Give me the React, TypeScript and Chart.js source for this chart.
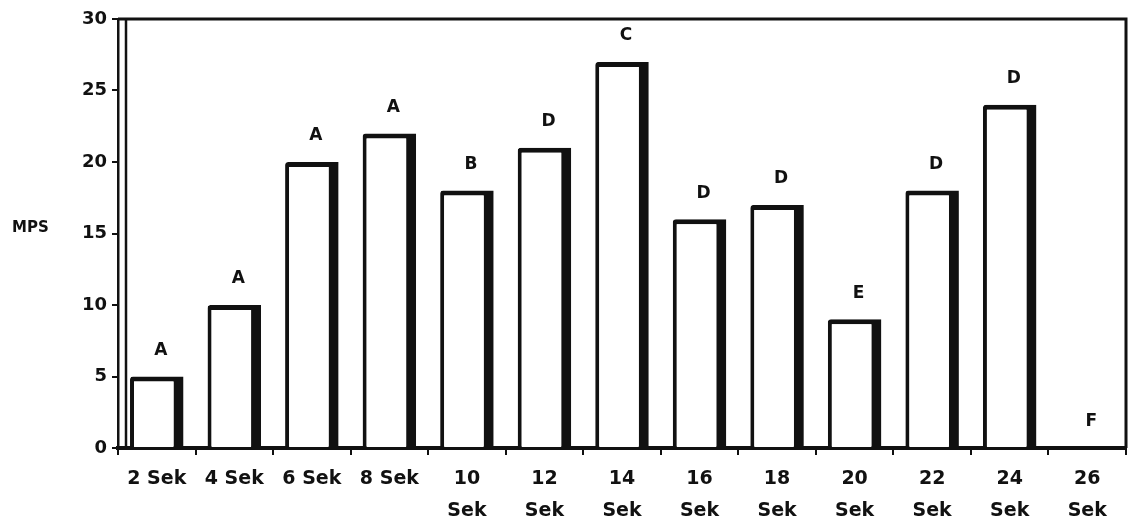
import React, { useEffect, useRef } from "react";
import { Chart, registerables } from "chart.js";

Chart.register(...registerables);

const categories: (string | string[])[] = [
  "2 Sek",
  "4 Sek",
  "6 Sek",
  "8 Sek",
  ["10", "Sek"],
  ["12", "Sek"],
  ["14", "Sek"],
  ["16", "Sek"],
  ["18", "Sek"],
  ["20", "Sek"],
  ["22", "Sek"],
  ["24", "Sek"],
  ["26", "Sek"],
];
const mpsValues = [5, 10, 20, 22, 18, 21, 27, 16, 17, 9, 18, 24, 0];
const groupLetters = ["A", "A", "A", "A", "B", "D", "C", "D", "D", "E", "D", "D", "F"];
const yMin = 0;
const yMax = 30;
const yStep = 5;
const yAxisTitle = "MPS";

const INK = "#111111";
const FONT = "'DejaVu Sans', 'Liberation Sans', Arial, sans-serif";

export default function App() {
  const ref = useRef<HTMLCanvasElement | null>(null);

  useEffect(() => {
    document.body.style.margin = "0";
    const canvas = ref.current;
    if (!canvas) return;

    const lettersPlugin = {
      id: "letters",
      afterDatasetsDraw(chart: any) {
        const ctx = chart.ctx;
        const meta = chart.getDatasetMeta(0);
        ctx.save();
        ctx.fillStyle = INK;
        ctx.font = `bold 17px ${FONT}`;
        ctx.textAlign = "center";
        ctx.textBaseline = "middle";
        meta.data.forEach((el: any, i: number) => {
          ctx.fillText(groupLetters[i], el.x + 4, el.y - 26);
        });
        ctx.restore();
      },
    };

    const framePlugin = {
      id: "frame",
      afterDraw(chart: any) {
        const { ctx, chartArea } = chart;
        const { left, top, right, bottom } = chartArea;
        ctx.save();
        ctx.strokeStyle = INK;
        ctx.lineWidth = 3;
        ctx.beginPath();
        ctx.moveTo(left, top);
        ctx.lineTo(right, top);
        ctx.lineTo(right, bottom);
        ctx.stroke();
        ctx.lineWidth = 2.5;
        ctx.beginPath();
        ctx.moveTo(left + 8, top);
        ctx.lineTo(left + 8, bottom);
        ctx.stroke();
        ctx.font = `bold 15px ${FONT}`;
        ctx.fillStyle = INK;
        ctx.textAlign = "left";
        ctx.textBaseline = "middle";
        ctx.fillText(yAxisTitle, 12, (top + bottom) / 2 - 5);
        ctx.restore();
      },
    };

    const chart = new Chart(canvas, {
      type: "bar",
      data: {
        labels: categories,
        datasets: [
          {
            data: mpsValues,
            backgroundColor: "#ffffff",
            borderColor: INK,
            borderWidth: { top: 5, left: 4, right: 10, bottom: 0 },
            borderSkipped: "bottom",
            borderRadius: { topLeft: 3, topRight: 0, bottomLeft: 0, bottomRight: 0 },
            barPercentage: 0.69,
            categoryPercentage: 1,
          },
        ],
      },
      options: {
        responsive: false,
        animation: false,
        devicePixelRatio: 1,
        layout: { padding: { top: 19, right: 12, left: 0, bottom: 0 } },
        plugins: {
          legend: { display: false },
          tooltip: { enabled: false },
          title: { display: false },
        },
        scales: {
          x: {
            afterFit(scale: any) {
              scale.height = 78;
            },
            grid: {
              offset: true,
              drawOnChartArea: false,
              drawTicks: true,
              tickLength: 7,
              color: INK,
              lineWidth: 2,
            },
            border: { display: true, color: INK, width: 4 },
            ticks: {
              color: INK,
              padding: 8,
              maxRotation: 0,
              autoSkip: false,
              font: { family: FONT, size: 19, weight: "bold", lineHeight: 1.7 },
            },
          },
          y: {
            min: yMin,
            max: yMax,
            afterFit(scale: any) {
              scale.width = 118;
            },
            grid: {
              drawOnChartArea: false,
              drawTicks: true,
              tickLength: 6,
              color: INK,
              lineWidth: 2,
            },
            border: { display: true, color: INK, width: 2.5 },
            ticks: {
              stepSize: yStep,
              color: INK,
              padding: 5,
              font: { family: FONT, size: 18, weight: "bold" },
            },
          },
        },
      },
      plugins: [lettersPlugin, framePlugin],
    });

    return () => chart.destroy();
  }, []);

  return (
    <div style={{ width: 1138, height: 526, background: "#fff" }}>
      <canvas ref={ref} width={1138} height={526} style={{ display: "block" }} />
    </div>
  );
}
